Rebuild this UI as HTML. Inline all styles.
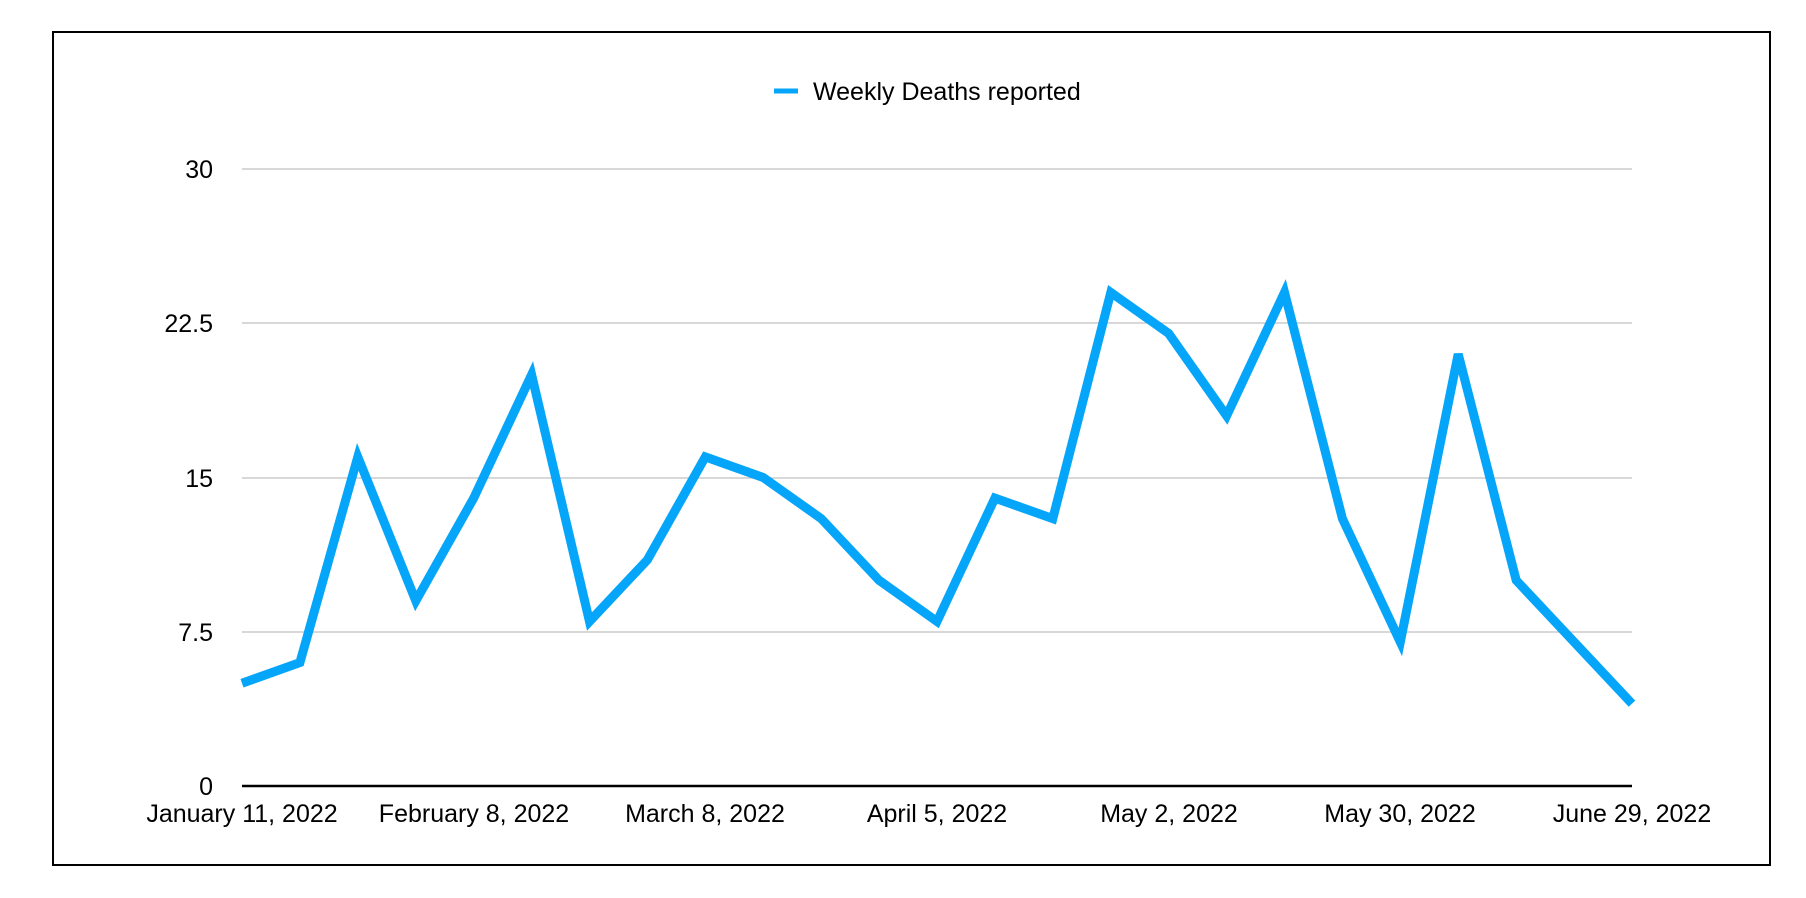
<!DOCTYPE html>
<html><head><style>body{margin:0;background:#fff}svg{display:block}</style></head>
<body>
<svg width="1806" height="898" xmlns="http://www.w3.org/2000/svg" font-family="Liberation Sans, Arial, sans-serif" font-size="25">
<rect x="0" y="0" width="1806" height="898" fill="#fff"/>
<rect x="53" y="32" width="1717" height="833" fill="none" stroke="#000" stroke-width="2"/>
<g stroke="#c0c0c0" stroke-width="1.2">
<line x1="242" x2="1632" y1="169" y2="169"/>
<line x1="242" x2="1632" y1="323" y2="323"/>
<line x1="242" x2="1632" y1="478" y2="478"/>
<line x1="242" x2="1632" y1="632" y2="632"/>
</g>
<line x1="242" x2="1632" y1="786" y2="786" stroke="#000" stroke-width="2.5"/>
<g text-anchor="end" fill="#000">
<text x="213" y="178">30</text>
<text x="213" y="332">22.5</text>
<text x="213" y="487">15</text>
<text x="213" y="641">7.5</text>
<text x="213" y="795">0</text>
</g>
<g text-anchor="middle" fill="#000">
<text x="242" y="822">January 11, 2022</text>
<text x="474" y="822">February 8, 2022</text>
<text x="705" y="822">March 8, 2022</text>
<text x="937" y="822">April 5, 2022</text>
<text x="1169" y="822">May 2, 2022</text>
<text x="1400" y="822">May 30, 2022</text>
<text x="1632" y="822">June 29, 2022</text>
</g>
<line x1="774" x2="798" y1="91" y2="91" stroke="#05a5fa" stroke-width="5"/>
<text x="813" y="100" fill="#000">Weekly Deaths reported</text>
<polyline fill="none" stroke="#05a5fa" stroke-width="9" stroke-linejoin="miter" points="242.0,683.2 299.9,662.6 357.8,456.9 415.8,600.9 473.7,498.1 531.6,374.7 589.5,621.5 647.4,559.8 705.3,456.9 763.2,477.5 821.2,518.6 879.1,580.3 937.0,621.5 994.9,498.1 1052.8,518.6 1110.8,292.4 1168.7,333.5 1226.6,415.8 1284.5,292.4 1342.4,518.6 1400.3,642.0 1458.2,354.1 1516.2,580.3 1574.1,642.0 1632.0,703.7"/>
</svg>
</body></html>
